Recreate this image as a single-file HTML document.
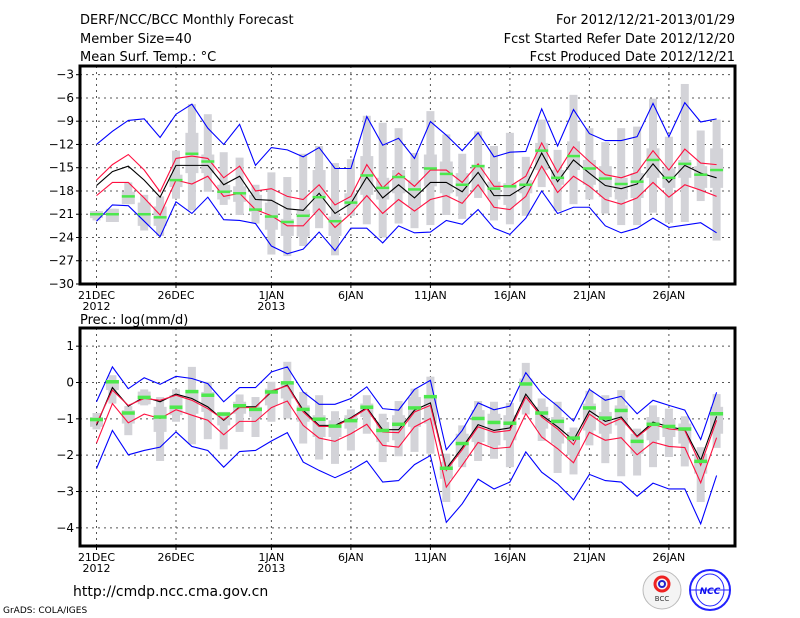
<!DOCTYPE html>
<html><head><meta charset="utf-8"><style>
html,body{margin:0;padding:0;background:#fff;}
svg{display:block;font-family:"DejaVu Sans","Liberation Sans",sans-serif;}
</style></head><body>
<svg id="chart" width="800" height="618" viewBox="0 0 800 618" xmlns="http://www.w3.org/2000/svg">
<g font-size="13" fill="#000">
<text x="80" y="24">DERF/NCC/BCC Monthly Forecast</text>
<text x="80" y="43">Member Size=40</text>
<text x="80" y="61">Mean Surf. Temp.: °C</text>
<text x="735" y="24" text-anchor="end">For 2012/12/21-2013/01/29</text>
<text x="735" y="43" text-anchor="end">Fcst Started Refer Date 2012/12/20</text>
<text x="735" y="61" text-anchor="end">Fcst Produced Date 2012/12/21</text>
<text x="80" y="324">Prec.: log(mm/d)</text>
</g>
<g id="top"></g>
<g id="bot"></g>
<text x="73" y="596" font-size="14">http://cmdp.ncc.cma.gov.cn</text>
<text x="3" y="613" font-size="9">GrADS: COLA/IGES</text>
<g>
<circle cx="662" cy="590" r="19" fill="#f4f4f4" stroke="#bbb"/>
<circle cx="662" cy="584" r="7" fill="none" stroke="#e22" stroke-width="3"/>
<circle cx="662" cy="584" r="3" fill="none" stroke="#22c" stroke-width="2"/>
<text x="662" y="601" font-size="7" text-anchor="middle" fill="#333">BCC</text>
</g>
<g>
<circle cx="710" cy="590" r="20" fill="#fff" stroke="#22f" stroke-width="2"/>
<ellipse cx="710" cy="590" rx="14" ry="16" fill="none" stroke="#22f"/>
<line x1="690" y1="590" x2="730" y2="590" stroke="#22f"/>
<text x="710" y="594" font-size="9" font-style="italic" font-weight="bold" text-anchor="middle" fill="#11e">NCC</text>
</g>
</svg>
<script>
const dayLabels=["21DEC","26DEC","1JAN","6JAN","11JAN","16JAN","21JAN","26JAN"];
const dayLabelIdx=[0,5,11,16,21,26,31,36];
const yearLabels=["2012","2013"];
const yearLabelIdx=[0,11];
const tTicks=[-3,-6,-9,-12,-15,-18,-21,-24,-27,-30];
const pTicks=[1,0,-1,-2,-3,-4];
// temperature
const tMaxLine=[-12,-10.3,-8.9,-8.7,-11.1,-8.1,-6.8,-9.9,-12,-9.4,-14.7,-12.4,-12.7,-13.6,-12.4,-15.1,-15.1,-8.4,-12.1,-11.2,-13.8,-9.05,-10.8,-12.8,-10.5,-13.6,-13,-12.9,-7.4,-12.2,-7.5,-10.6,-11.5,-11.5,-11,-6.7,-11,-6.6,-9.1,-8.7];
const tUpper=[-16.6,-14.6,-13.3,-15.3,-18.1,-13.8,-13.5,-13.8,-16.3,-14.8,-18,-17.7,-18.7,-19.1,-17.2,-19.8,-18.7,-14.6,-17.6,-15.7,-17.4,-15.3,-15.3,-16.9,-14.5,-17.4,-17.4,-16.1,-11.8,-15.6,-12.3,-14.2,-15.9,-16.3,-15.6,-12.8,-15.3,-12.6,-14.4,-14.6];
const tMean=[-17.3,-15.5,-14.8,-16.6,-18.8,-14.7,-14.7,-14.7,-17.2,-16.1,-19.1,-19.2,-20.3,-20.5,-18.3,-20.9,-19.6,-16.2,-18.9,-17.2,-18.9,-16.9,-16.9,-18.1,-15.6,-18.6,-18.6,-17.3,-13.1,-16.8,-14,-15.7,-17.3,-17.7,-17.1,-14.5,-16.9,-14.7,-15.7,-16.3];
const tLower=[-18.6,-16.9,-16.9,-18.9,-21.1,-16.6,-17.1,-16.1,-18.7,-18.3,-20.4,-21.2,-22.5,-22.5,-20.3,-22.7,-20.9,-18.6,-20.9,-19.1,-20.6,-19.1,-18.6,-19.6,-17.2,-20.1,-20.4,-18.7,-14.8,-18.2,-16.1,-17.4,-19.1,-19.7,-18.9,-16.9,-18.8,-17.2,-17.9,-18.7];
const tMinLine=[-21.9,-19.8,-19.9,-21.9,-23.9,-19.4,-20.9,-18.8,-21.7,-21.8,-22.2,-25.1,-26.1,-25.5,-23.3,-25.7,-22.8,-22.8,-24.7,-22.5,-23.4,-23.3,-21.8,-22.3,-20.4,-22.8,-23.6,-21.5,-18,-20.9,-20.1,-20.1,-22.5,-23.4,-22.8,-21.5,-22.7,-22.4,-22.1,-23.4];
const tBarHi=[-20.6,-20.3,-16.9,-18.5,-18.7,-12.8,-6.8,-8.1,-13,-13.7,-17.2,-15.6,-16.2,-13.2,-12.2,-14.4,-13.9,-8.3,-9.2,-9.9,-13.1,-7.7,-10.7,-13.2,-10.3,-12.2,-10.5,-13.6,-8.8,-12.7,-5.6,-9.9,-11.7,-9.9,-9.7,-6.1,-11,-4.2,-10.2,-8.8];
const tBarQ3=[-20.6,-20.3,-18.1,-19.5,-20,-15.9,-10.5,-13.3,-17.2,-17.4,-18.5,-19.5,-21.6,-20.4,-15.3,-21.3,-18.3,-13.5,-16.3,-15.3,-16.6,-13.3,-14.2,-15.7,-14.6,-16.8,-17,-16.6,-11.8,-15.3,-11.6,-14,-14.8,-16.3,-15.7,-12.5,-15.1,-14,-14.8,-12.5];
const tBarQ1=[-21.5,-22,-19.7,-22.5,-22.5,-17.5,-15.7,-15.7,-19.1,-19.4,-20.7,-23,-23.8,-23.9,-20.9,-23.8,-20,-18.5,-19.1,-18.3,-20,-17.4,-18.3,-18.7,-18.1,-19.1,-19.8,-18.3,-15.3,-17.2,-15.3,-17.2,-18.8,-19.1,-18.9,-16.3,-17.6,-16.3,-17.6,-17.6];
const tBarLo=[-21.8,-22,-19.7,-23.1,-23.8,-19,-20.5,-18.1,-19.8,-21.1,-22.2,-26.2,-26.4,-25.1,-22.8,-26.3,-21.2,-22.3,-24,-22.2,-22.8,-22.4,-21.1,-21.6,-18.9,-21.8,-22.3,-21.2,-17.5,-20.6,-19.7,-19.1,-20.9,-22.4,-22.4,-20.8,-22.1,-22,-19.3,-24.4];
const tObs=[-21,-21,-18.7,-21,-21.4,-16.6,-13.2,-14.2,-18.1,-18.3,-20.4,-21.3,-22,-21.2,-18.8,-21.9,-19.5,-16,-17.6,-16.2,-17.8,-15.1,-15.8,-17.2,-14.8,-17.7,-17.4,-17.2,-12.8,-16.3,-13.5,-15.1,-16.4,-17.1,-16.8,-14,-16.3,-14.5,-15.9,-15.3];
// precipitation
const pMaxLine=[-0.53,0.43,-0.17,0.13,-0.05,0.17,0.11,-0.03,-0.53,-0.14,-0.14,0.29,0.43,-0.26,-0.6,-0.6,-0.44,-0.12,-0.72,-0.76,-0.19,0.06,-1.85,-1.32,-0.56,-0.75,-0.65,0.27,-0.3,-0.65,-1.06,-0.19,-0.49,-0.38,-0.86,-0.49,-0.63,-0.76,-1.57,-0.27];
const pUpper=[-1.13,-0.21,-0.63,-0.44,-0.49,-0.35,-0.49,-0.72,-1.02,-0.69,-0.69,-0.23,-0.09,-0.81,-1.21,-1.21,-0.99,-0.72,-1.36,-1.38,-0.81,-0.63,-2.42,-1.85,-1.22,-1.37,-1.32,-0.4,-0.95,-1.28,-1.71,-0.87,-1.18,-0.99,-1.5,-1.15,-1.28,-1.32,-2.28,-1.04];
const pMean=[-1.18,-0.14,-0.65,-0.4,-0.53,-0.32,-0.44,-0.67,-1.04,-0.67,-0.67,-0.26,-0.07,-0.76,-1.18,-1.18,-0.97,-0.69,-1.3,-1.3,-0.76,-0.56,-2.37,-1.79,-1.16,-1.32,-1.25,-0.32,-0.9,-1.22,-1.59,-0.78,-1.07,-0.95,-1.48,-1.09,-1.22,-1.3,-2.14,-0.93];
const pLower=[-1.67,-0.58,-1.11,-0.87,-0.99,-0.75,-0.9,-1.04,-1.44,-1.07,-1.07,-0.69,-0.51,-1.18,-1.53,-1.62,-1.41,-1.15,-1.73,-1.78,-1.22,-0.99,-2.88,-2.28,-1.65,-1.82,-1.78,-0.86,-1.5,-1.82,-2.21,-1.37,-1.59,-1.52,-1.99,-1.64,-1.76,-1.79,-2.76,-1.52];
const pMinLine=[-2.37,-1.32,-1.99,-1.87,-1.78,-1.36,-1.76,-1.87,-2.33,-1.9,-1.87,-1.61,-1.38,-2.19,-2.42,-2.62,-2.42,-2.16,-2.74,-2.7,-2.26,-2.01,-3.85,-3.34,-2.66,-2.93,-2.74,-1.91,-2.47,-2.79,-3.23,-2.53,-2.7,-2.74,-3.13,-2.77,-2.93,-2.93,-3.89,-2.56];
const pBarHi=[-0.84,0.2,-0.65,-0.19,-0.4,-0.19,0.43,0.02,-0.81,-0.33,-0.4,0.02,0.57,-0.26,-0.35,-0.79,-0.74,-0.35,-0.86,-0.51,-0.17,0.16,-1.96,-1.18,-0.51,-0.53,-0.56,0.54,-0.44,-0.53,-1.24,-0.23,-0.35,-0.21,-1.27,-0.63,-0.72,-0.93,-1.78,-0.32];
const pBarQ3=[-0.95,0.06,-0.76,-0.25,-0.67,-0.35,-0.21,-0.26,-0.81,-0.53,-0.67,-0.17,0.02,-0.63,-0.9,-1.04,-0.9,-0.58,-1.09,-0.9,-0.4,-0.35,-2.19,-1.41,-0.76,-0.86,-0.9,0.11,-0.67,-0.95,-1.36,-0.58,-0.81,-0.63,-1.41,-0.95,-1,-1.13,-1.96,-0.67];
const pBarQ1=[-1.22,-0.21,-1.13,-0.6,-1.36,-0.9,-0.86,-0.81,-1.18,-0.86,-0.95,-0.63,-0.44,-1.08,-1.5,-1.5,-1.27,-0.95,-1.64,-1.59,-1.22,-1.13,-2.65,-2.05,-1.64,-1.73,-1.59,-0.53,-1.27,-1.68,-2,-1.32,-1.41,-1.18,-1.96,-1.59,-1.5,-1.68,-2.51,-1.41];
const pBarLo=[-1.29,-0.58,-1.45,-0.63,-2.16,-1.08,-1.7,-1.56,-1.84,-1.36,-1.5,-1.08,-0.99,-1.68,-2.12,-2.24,-1.87,-1.41,-2.19,-2.03,-1.91,-1.96,-3.29,-2.33,-2.16,-2.1,-2.33,-0.88,-1.61,-2.49,-2.53,-1.73,-2.22,-2.58,-2.56,-2.33,-2.05,-2.31,-3.29,-1.8];
const pObs=[-1.02,0.02,-0.84,-0.41,-0.95,-0.68,-0.25,-0.35,-0.87,-0.64,-0.74,-0.26,-0.01,-0.74,-1.01,-1.2,-1.05,-0.68,-1.32,-1.15,-0.7,-0.39,-2.36,-1.68,-0.99,-1.1,-1.12,-0.04,-0.84,-1.07,-1.53,-0.7,-0.98,-0.77,-1.62,-1.15,-1.21,-1.28,-2.17,-0.86];

const NS="http://www.w3.org/2000/svg";
function mk(parent,tag,attrs){const e=document.createElementNS(NS,tag);for(const k in attrs)e.setAttribute(k,attrs[k]);parent.appendChild(e);return e;}
const X0=80,X1=735;
function xd(i){return 96.5+15.9*i;}

function panel(gid,top,bottom,vTop,vBot,ticks,series,bars,obs,obsH,withX){
  const g=document.getElementById(gid);
  const y=v=>top+(vTop-v)/(vTop-vBot)*(bottom-top);
  // grid
  ticks.forEach(t=>{
    const l=mk(g,'line',{x1:X0,x2:X1,y1:y(t),y2:y(t),stroke:'#555','stroke-dasharray':'2,4','stroke-width':1});
    
    
    const tk=mk(g,'line',{x1:X0-4,x2:X0,y1:y(t),y2:y(t),stroke:'#000'});
    
    
    const tx=mk(g,'text',{x:X0-6,y:y(t)+4,'text-anchor':'end','font-size':12});
    tx.textContent=(t<0?'\u2212'+(-t):String(t));
    
    
  });
  dayLabelIdx.forEach(i=>{
    const l=mk(g,'line',{x1:xd(i),x2:xd(i),y1:top,y2:bottom,stroke:'#555','stroke-dasharray':'2,4'});
    
    
  });
  // bars
  for(let i=0;i<bars.hi.length;i++){
    const x=xd(i);
    const r1=mk(g,'rect',{x:x-4,y:y(bars.hi[i]),width:8,height:Math.max(1,y(bars.lo[i])-y(bars.hi[i])),fill:'#d3d3d8'});
    
    
    const r2=mk(g,'rect',{x:x-6.5,y:y(bars.q3[i]),width:13,height:Math.max(1,y(bars.q1[i])-y(bars.q3[i])),fill:'#d3d3d8'});
    
    
  }
  series.forEach(s=>{
    const p=mk(g,'polyline',{points:s.d.map((v,i)=>xd(i)+','+y(v)).join(' '),fill:'none',stroke:s.c,'stroke-width':1.1});
    
    
  });
  obs.forEach((v,i)=>{
    const r=mk(g,'rect',{x:xd(i)-6.5,y:y(v)-obsH/2,width:13,height:obsH,fill:'#4de84d'});
    
    
  });
  const f=mk(g,'rect',{x:X0,y:top,width:X1-X0,height:bottom-top,fill:'none',stroke:'#000','stroke-width':3});
  
  
  dayLabelIdx.forEach((i,k)=>{
    const tk=mk(g,'line',{x1:xd(i),x2:xd(i),y1:bottom,y2:bottom+4,stroke:'#000'});
    
    
    const t=mk(g,'text',{x:xd(i),y:bottom+15,'text-anchor':'middle','font-size':11});
    t.textContent=dayLabels[k];
    
    
  });
  yearLabelIdx.forEach((i,k)=>{
    const t=mk(g,'text',{x:xd(i),y:bottom+26,'text-anchor':'middle','font-size':11});
    t.textContent=yearLabels[k];
    
    
  });
}
panel('top',66,284,-1.88,-30,tTicks,[
 {d:tMaxLine,c:'#0000ff',n:'temp-max-line'},{d:tMinLine,c:'#0000ff',n:'temp-min-line'},
 {d:tUpper,c:'#ff1040',n:'temp-upper-line'},{d:tLower,c:'#ff1040',n:'temp-lower-line'},
 {d:tMean,c:'#000',n:'temp-mean-line'}],
 {hi:tBarHi,q3:tBarQ3,q1:tBarQ1,lo:tBarLo},tObs,2.5);
panel('bot',328,546,1.5,-4.5,pTicks,[
 {d:pMaxLine,c:'#0000ff',n:'prec-max-line'},{d:pMinLine,c:'#0000ff',n:'prec-min-line'},
 {d:pLower,c:'#ff1040',n:'prec-lower-line'},{d:pMean,c:'#000',n:'prec-mean-line'},
 {d:pUpper,c:'#ff1040',n:'prec-upper-line'}],
 {hi:pBarHi,q3:pBarQ3,q1:pBarQ1,lo:pBarLo},pObs,3.5);
</script>
</body></html>
